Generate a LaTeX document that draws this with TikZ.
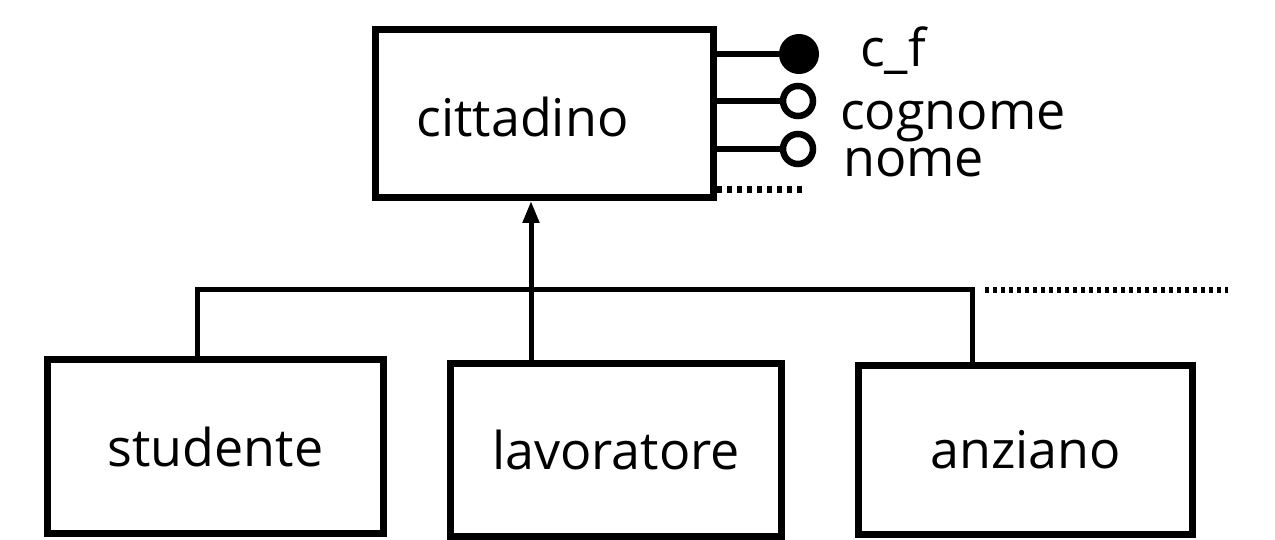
\documentclass[tikz,border=0pt]{standalone}
\usepackage{fontspec}
\setmainfont{Open Sans}
\usetikzlibrary{arrows.meta}

\tikzset{
  entity/.style={draw, line width=7pt, inner sep=0pt, font=\fontsize{52}{60}\selectfont},
  link/.style={line width=5pt},
  dots/.style={line width=7pt, dash pattern=on 5pt off 5pt},
  keyattr/.style={circle, fill, draw, line width=6pt, minimum size=34pt, inner sep=0pt},
  attr/.style={circle, draw, fill=white, line width=6.5pt, minimum size=30pt, inner sep=0pt},
  attrname/.style={anchor=base west, inner sep=0pt, font=\fontsize{52}{60}\selectfont}
}

\begin{document}
\begin{tikzpicture}[x=1pt, y=-1pt]
\useasboundingbox (0,0) rectangle (1275,540);

% entita padre
\node[entity, minimum width=338pt, minimum height=168pt,
  label={[font=\fontsize{52}{60}\selectfont, xshift=-22pt, yshift=-4pt]center:cittadino}] (citt) at (544.5,113.5) {};

% attributi
\node[keyattr] (cf) at (799,54) {};
\node[attr] (cog) at (798,101) {};
\node[attr] (nom) at (798,149) {};
\draw[line width=6pt] (citt.east |- cf) -- (cf);
\draw[line width=6pt] (citt.east |- cog) -- (cog);
\draw[line width=6pt] (citt.east |- nom) -- (nom);
\node[attrname] (cfname) at (860,67) {c\_f};
\node[attrname] (cogname) at (840,130) {cognome};
\node[attrname] (nomname) at (843,177) {nome};
\coordinate (more1) at (805,190);
\draw[dots] (more1 -| citt.east) -- (more1);

% entita figlie
\node[entity, minimum width=336pt, minimum height=174pt] (stud) at (215.5,446.5) {studente};
\node[entity, minimum width=331pt, minimum height=173pt] (lav) at (616,450) {lavoratore};
\node[entity, minimum width=334pt, minimum height=169pt] (anz) at (1025.5,450) {anziano};

% generalizzazione
\coordinate (jl) at (197,290);
\coordinate (ja) at (531,290);
\coordinate (jr) at (972,290);
\coordinate (jd) at (985,290);
\coordinate (more2) at (1228,290);
\draw[link] (jl |- stud.north) -- (jl) -- (jr) -- (jr |- anz.north);
\draw[dots, line width=6pt, dash pattern=on 4pt off 4pt] (jd) -- (more2);
\draw[link, -{Triangle[length=22pt, width=16pt]}] (ja |- lav.north) -- (ja |- citt.south);

\end{tikzpicture}
\end{document}
